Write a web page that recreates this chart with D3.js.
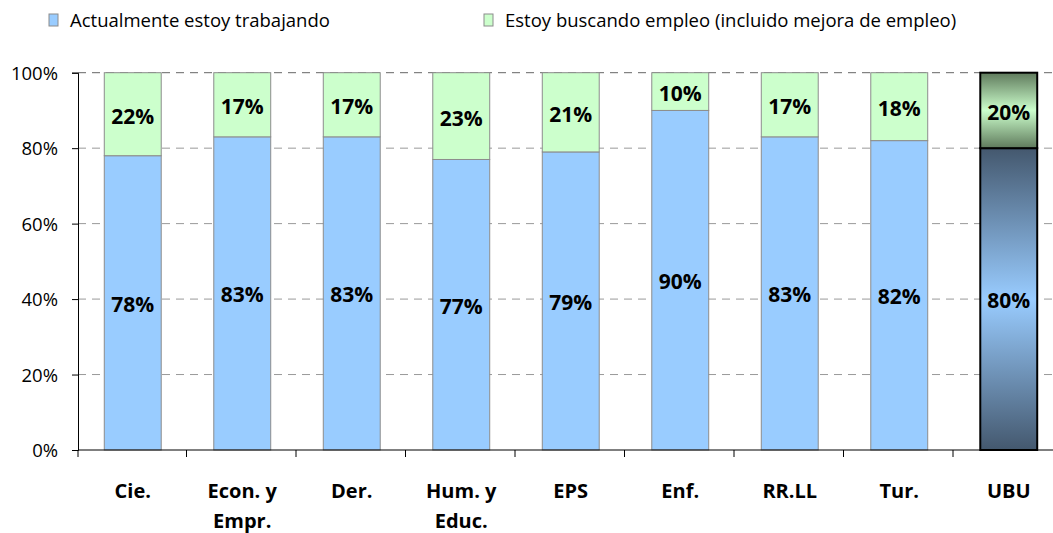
<!DOCTYPE html>
<html>
<head>
<meta charset="utf-8">
<script src="https://cdn.jsdelivr.net/npm/d3@7"></script>
<style>
  body { margin: 0; background: #fff; }
  svg { display: block; font-family: "Open Sans", "DejaVu Sans", sans-serif; }
</style>
</head>
<body>
<div id="chart"></div>
<script>
// data
const categories = ["Cie.", "Econ. y\nEmpr.", "Der.", "Hum. y\nEduc.", "EPS", "Enf.", "RR.LL", "Tur.", "UBU"];
const trabajando = [78, 83, 83, 77, 79, 90, 83, 82, 80];
const buscando = [22, 17, 17, 23, 21, 10, 17, 18, 20];
const yTicks = [0, 20, 40, 60, 80, 100];
const seriesNames = ["Actualmente estoy trabajando", "Estoy buscando empleo (incluido mejora de empleo)"];

const W = 1053, H = 533;
const plotLeft = 78, plotTop = 72.7, plotBottom = 450;
const step = 109.5;

const svg = d3.select("#chart").append("svg")
	.attr("width", W)
	.attr("height", H);

const defs = svg.append("defs");
// gradients for the highlighted total bar
const gBlue = defs.append("linearGradient").attr("id", "gBlue")
	.attr("x1", 0).attr("y1", 0).attr("x2", 0).attr("y2", 1);
gBlue.append("stop").attr("offset", "0%").attr("stop-color", "#44586e");
gBlue.append("stop").attr("offset", "50%").attr("stop-color", "#99ccff");
gBlue.append("stop").attr("offset", "100%").attr("stop-color", "#44586e");
const gGreen = defs.append("linearGradient").attr("id", "gGreen")
	.attr("x1", 0).attr("y1", 0).attr("x2", 0).attr("y2", 1);
gGreen.append("stop").attr("offset", "0%").attr("stop-color", "#5f7a5c");
gGreen.append("stop").attr("offset", "50%").attr("stop-color", "#ccffcc");
gGreen.append("stop").attr("offset", "100%").attr("stop-color", "#5f7a5c");

const x = d3.scaleBand()
	.domain(categories)
	.range([plotLeft, plotLeft + step * categories.length])
	.paddingInner(0.48)
	.paddingOuter(0.24);

const y = d3.scaleLinear().domain([0, 100]).range([plotBottom, plotTop]);

// gridlines
svg.append("g")
	.selectAll("line")
	.data(yTicks.filter(d => d > 0))
	.join("line")
	.attr("x1", plotLeft)
	.attr("x2", W)
	.attr("y1", d => y(d))
	.attr("y2", d => y(d))
	.attr("stroke", d => d == 100 ? "#666" : "#999")
	.attr("stroke-width", 1)
	.attr("stroke-dasharray", "8,6");

// bars
const bars = svg.append("g")
	.selectAll("g")
	.data(categories)
	.join("g");

bars.append("rect")
	.attr("x", d => x(d))
	.attr("width", x.bandwidth())
	.attr("y", (d, i) => y(trabajando[i]))
	.attr("height", (d, i) => y(0) - y(trabajando[i]))
	.attr("fill", d => d == "UBU" ? "url(#gBlue)" : "#99ccff")
	.attr("stroke", d => d == "UBU" ? "#000" : "#8c8c8c")
	.attr("stroke-width", d => d == "UBU" ? 2 : 1);

bars.append("rect")
	.attr("x", d => x(d))
	.attr("width", x.bandwidth())
	.attr("y", (d, i) => y(trabajando[i] + buscando[i]))
	.attr("height", (d, i) => y(trabajando[i]) - y(trabajando[i] + buscando[i]))
	.attr("fill", d => d == "UBU" ? "url(#gGreen)" : "#ccffcc")
	.attr("stroke", d => d == "UBU" ? "#000" : "#8c8c8c")
	.attr("stroke-width", d => d == "UBU" ? 2 : 1);

// value labels
bars.append("text")
	.attr("x", d => x(d) + x.bandwidth() / 2)
	.attr("y", (d, i) => (y(0) + y(trabajando[i])) / 2 + 9)
	.attr("text-anchor", "middle")
	.attr("font-size", 21)
	.attr("font-weight", "bold")
	.text((d, i) => trabajando[i] + "%");

bars.append("text")
	.attr("x", d => x(d) + x.bandwidth() / 2)
	.attr("y", (d, i) => (y(trabajando[i]) + y(trabajando[i] + buscando[i])) / 2 + 9.5)
	.attr("text-anchor", "middle")
	.attr("font-size", 21)
	.attr("font-weight", "bold")
	.text((d, i) => buscando[i] + "%");

// y axis
const yaxis = svg.append("g")
	.attr("transform", "translate(" + plotLeft + ",0)")
	.call(d3.axisLeft(y).tickValues(yTicks).tickFormat(d => d + "%").tickSizeOuter(0).tickSize(6));
yaxis.select(".domain").attr("stroke", "#000");
yaxis.selectAll(".tick line").attr("stroke", "#000");
yaxis.selectAll("text")
	.attr("font-size", 18.5)
	.attr("font-family", "Open Sans, sans-serif")
	.attr("fill", "#000")
	.attr("x", -20)
	.attr("dy", "0.35em");
// left axis line extends a bit below zero
svg.append("line")
	.attr("x1", plotLeft).attr("x2", plotLeft)
	.attr("y1", plotBottom).attr("y2", plotBottom + 7)
	.attr("stroke", "#000");

// x axis line and band boundary ticks
svg.append("line")
	.attr("x1", plotLeft).attr("x2", W)
	.attr("y1", plotBottom).attr("y2", plotBottom)
	.attr("stroke", "#000");
svg.append("g")
	.selectAll("line")
	.data(categories.slice(1))
	.join("line")
	.attr("x1", d => x(d) - x.step() * x.paddingInner() / 2 - 1)
	.attr("x2", d => x(d) - x.step() * x.paddingInner() / 2 - 1)
	.attr("y1", plotBottom)
	.attr("y2", plotBottom + 7)
	.attr("stroke", "#000");

// category labels
const cl = svg.append("g")
	.selectAll("text")
	.data(categories)
	.join("text")
	.attr("x", d => x(d) + x.bandwidth() / 2)
	.attr("y", 498)
	.attr("text-anchor", "middle")
	.attr("font-size", 20)
	.attr("font-weight", "bold");
cl.each(function(d) {
	const lines = d.split("\n");
	const t = d3.select(this);
	lines.forEach((s, k) => {
		t.append("tspan")
			.attr("x", x(d) + x.bandwidth() / 2)
			.attr("dy", k == 0 ? 0 : 30)
			.text(s);
	});
});

// legend
const legendX = [49, 484];
const legend = svg.append("g")
	.selectAll("g")
	.data(seriesNames)
	.join("g")
	.attr("transform", (d, i) => "translate(" + legendX[i] + ",14)");
legend.append("rect")
	.attr("width", 9).attr("height", 12)
	.attr("fill", (d, i) => i == 0 ? "#99ccff" : "#ccffcc")
	.attr("stroke", "#8c8c8c");
legend.append("text")
	.attr("x", 21)
	.attr("y", 13)
	.attr("font-size", 18.5)
	.text(d => d);
</script>
</body>
</html>
